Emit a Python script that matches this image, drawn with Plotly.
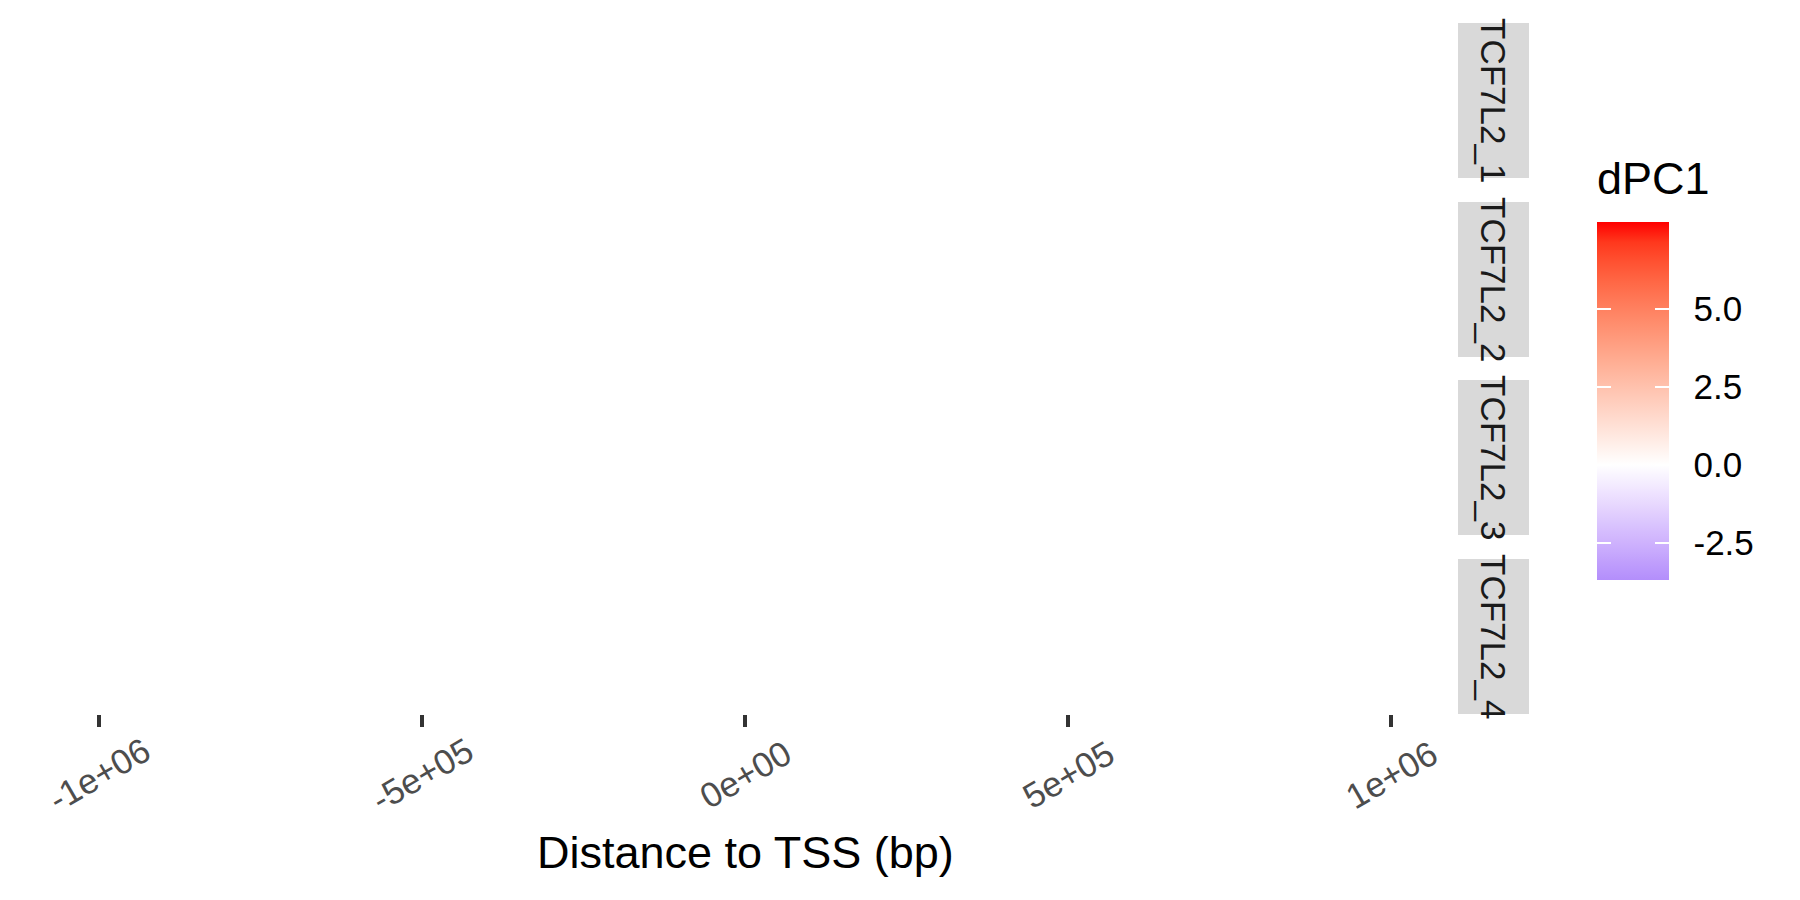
import plotly.graph_objects as go

# ---- data ----
facets = ["TCF7L2_1", "TCF7L2_2", "TCF7L2_3", "TCF7L2_4"]
x_tickvals = [-1000000, -500000, 0, 500000, 1000000]
x_ticktext = ["-1e+06", "-5e+05", "0e+00", "5e+05", "1e+06"]
x_range = [-1100000, 1100000]
dpc1_values = [-3.7, 7.8]          # observed range of the fill scale
cb_tickvals = [-2.5, 0.0, 2.5, 5.0]
cb_ticktext = ["-2.5", "0.0", "2.5", "5.0"]

# ---- colour helpers (Lab interpolation like ggplot's gradient2) ----
def hex2rgb(h):
    h = h.lstrip("#")
    return [int(h[i:i + 2], 16) / 255 for i in (0, 2, 4)]

def rgb2lab(c):
    def lin(u):
        return u / 12.92 if u <= 0.04045 else ((u + 0.055) / 1.055) ** 2.4
    r, g, b = [lin(u) for u in c]
    X = (0.4124 * r + 0.3576 * g + 0.1805 * b) / 0.95047
    Y = (0.2126 * r + 0.7152 * g + 0.0722 * b)
    Z = (0.0193 * r + 0.1192 * g + 0.9505 * b) / 1.08883
    def f(t):
        return t ** (1 / 3) if t > 0.008856 else 7.787 * t + 16 / 116
    fx, fy, fz = f(X), f(Y), f(Z)
    return [116 * fy - 16, 500 * (fx - fy), 200 * (fy - fz)]

def lab2hex(lab):
    L, a, b = lab
    fy = (L + 16) / 116
    fx = fy + a / 500
    fz = fy - b / 200
    def finv(t):
        return t ** 3 if t ** 3 > 0.008856 else (t - 16 / 116) / 7.787
    X, Y, Z = finv(fx) * 0.95047, finv(fy), finv(fz) * 1.08883
    r = 3.2406 * X - 1.5372 * Y - 0.4986 * Z
    g = -0.9689 * X + 1.8758 * Y + 0.0415 * Z
    bb = 0.0557 * X - 0.2040 * Y + 1.0570 * Z
    def gam(u):
        u = u * 12.92 if u <= 0.0031308 else 1.055 * u ** (1 / 2.4) - 0.055
        return max(0, min(255, round(u * 255)))
    return "#%02x%02x%02x" % (gam(r), gam(g), gam(bb))

cmin, cmax = min(dpc1_values), max(dpc1_values)
low_end, mid, high_end = "#b38efb", "#ffffff", "#ff0000"
labs = {k: rgb2lab(hex2rgb(v)) for k, v in
        (("lo", low_end), ("mid", mid), ("hi", high_end))}
colorscale = []
n = 12
for i in range(n + 1):
    t = i / n
    lab = [labs["lo"][j] + (labs["mid"][j] - labs["lo"][j]) * t for j in range(3)]
    v = cmin + (0 - cmin) * t
    colorscale.append([(v - cmin) / (cmax - cmin), lab2hex(lab)])
for i in range(1, n + 1):
    t = i / n
    lab = [labs["mid"][j] + (labs["hi"][j] - labs["mid"][j]) * t for j in range(3)]
    v = cmax * t
    colorscale.append([(v - cmin) / (cmax - cmin), lab2hex(lab)])
colorscale[-1][0] = 1.0

# ---- layout geometry (pixels in the 1800x900 window) ----
W, H = 1800, 900
OFF = 8  # page body margin offsets the figure by 8px

def px(x):
    return (x - OFF) / W

def py(y):
    return 1 - (y - OFF) / H

panel_x = [34, 1456]
panel_y = [(23, 178), (202, 357), (380, 535), (559, 714)]
strip_x = [1458, 1529]

FONT = "Liberation Sans"
BIG, SMALL = 45, 35
fig = go.Figure()

layout = dict(
    width=W, height=H,
    margin=dict(l=0, r=0, t=0, b=0, autoexpand=False),
    paper_bgcolor="white", plot_bgcolor="white",
    font=dict(family=FONT, color="black"),
    showlegend=False,
)
shapes, annotations = [], []
for i, name in enumerate(facets):
    k = "" if i == 0 else str(i + 1)
    top, bot = panel_y[i]
    last = i == len(facets) - 1
    layout["xaxis" + k] = dict(
        domain=[px(panel_x[0]), px(panel_x[1])], range=x_range,
        anchor="y" + k, matches=None if i == 0 else "x", automargin=False,
        showgrid=False, zeroline=False, showline=False,
        tickmode="array", tickvals=x_tickvals,
        ticks="outside" if last else "", ticklen=12, tickwidth=4, tickcolor="#333333",
        showticklabels=False,
    )
    layout["yaxis" + k] = dict(
        domain=[py(bot), py(top)], range=[0, 1], anchor="x" + k,
        automargin=False,
        showgrid=False, zeroline=False, showline=False,
        showticklabels=False, ticks="",
    )
    shapes.append(dict(type="rect", xref="paper", yref="y" + k + " domain",
                       x0=px(strip_x[0]), x1=px(strip_x[1]), y0=0, y1=1,
                       fillcolor="#d9d9d9", line=dict(width=0), layer="below"))
    annotations.append(dict(text=name, xref="paper", yref="y" + k + " domain",
                            x=px((strip_x[0] + strip_x[1]) / 2), y=0.5,
                            showarrow=False, textangle=90,
                            font=dict(family=FONT, size=SMALL, color="#1a1a1a"),
                            xanchor="center", yanchor="middle"))
    fig.add_trace(go.Scatter(x=[None], y=[None], xaxis="x" + k, yaxis="y" + k,
                             mode="markers", hoverinfo="skip"))

# x tick labels, rotated 30 degrees and centred under their ticks
last_k = str(len(facets))
for v, txt in zip(x_tickvals, x_ticktext):
    annotations.append(dict(text=txt, x=v, xref="x" + last_k,
                            y=0, yref="y" + last_k + " domain", yshift=-60,
                            showarrow=False, textangle=-30,
                            xanchor="center", yanchor="middle",
                            font=dict(family=FONT, size=SMALL, color="#4d4d4d")))

annotations.append(dict(text="Distance to TSS (bp)", xref="paper", yref="paper",
                        x=px((panel_x[0] + panel_x[1]) / 2), y=py(852),
                        showarrow=False, xanchor="center", yanchor="middle",
                        font=dict(family=FONT, size=BIG, color="black")))

# colour bar geometry
cb_top, cb_bot = 222, 580
cb_left, cb_w = 1597, 72

annotations.append(dict(text="dPC1", xref="paper", yref="paper",
                        x=px(cb_left - 2), y=py(179),
                        showarrow=False, xanchor="left", yanchor="middle",
                        font=dict(family=FONT, size=BIG, color="black")))


def cbar(thick, x_left, show_labels, ticks, ticklen, tickcolor):
    return dict(
        x=px(x_left), xanchor="left", xref="paper",
        y=py(cb_top), yanchor="top", yref="paper",
        thickness=thick, thicknessmode="pixels",
        len=cb_bot - cb_top, lenmode="pixels",
        xpad=0, ypad=0, outlinewidth=0,
        tickmode="array", tickvals=cb_tickvals, ticktext=cb_ticktext,
        showticklabels=show_labels,
        ticks=ticks, ticklen=ticklen, tickwidth=1.5, tickcolor=tickcolor,
        tickfont=dict(family=FONT, size=SMALL, color="black"),
    )


bars = [
    cbar(cb_w, cb_left, True, "outside", 18, "rgba(0,0,0,0)"),
    cbar(cb_w, cb_left, False, "inside", 14, "white"),
    cbar(14, cb_left, False, "inside", 14, "white"),
]
for cb in bars:
    fig.add_trace(go.Scatter(
        x=[None] * len(dpc1_values), y=[None] * len(dpc1_values),
        mode="markers", hoverinfo="skip",
        marker=dict(color=dpc1_values, cmin=cmin, cmax=cmax,
                    colorscale=colorscale, showscale=True, colorbar=cb)))

layout["shapes"] = shapes
layout["annotations"] = annotations
fig.update_layout(**layout)
fig.write_html("out.html")
